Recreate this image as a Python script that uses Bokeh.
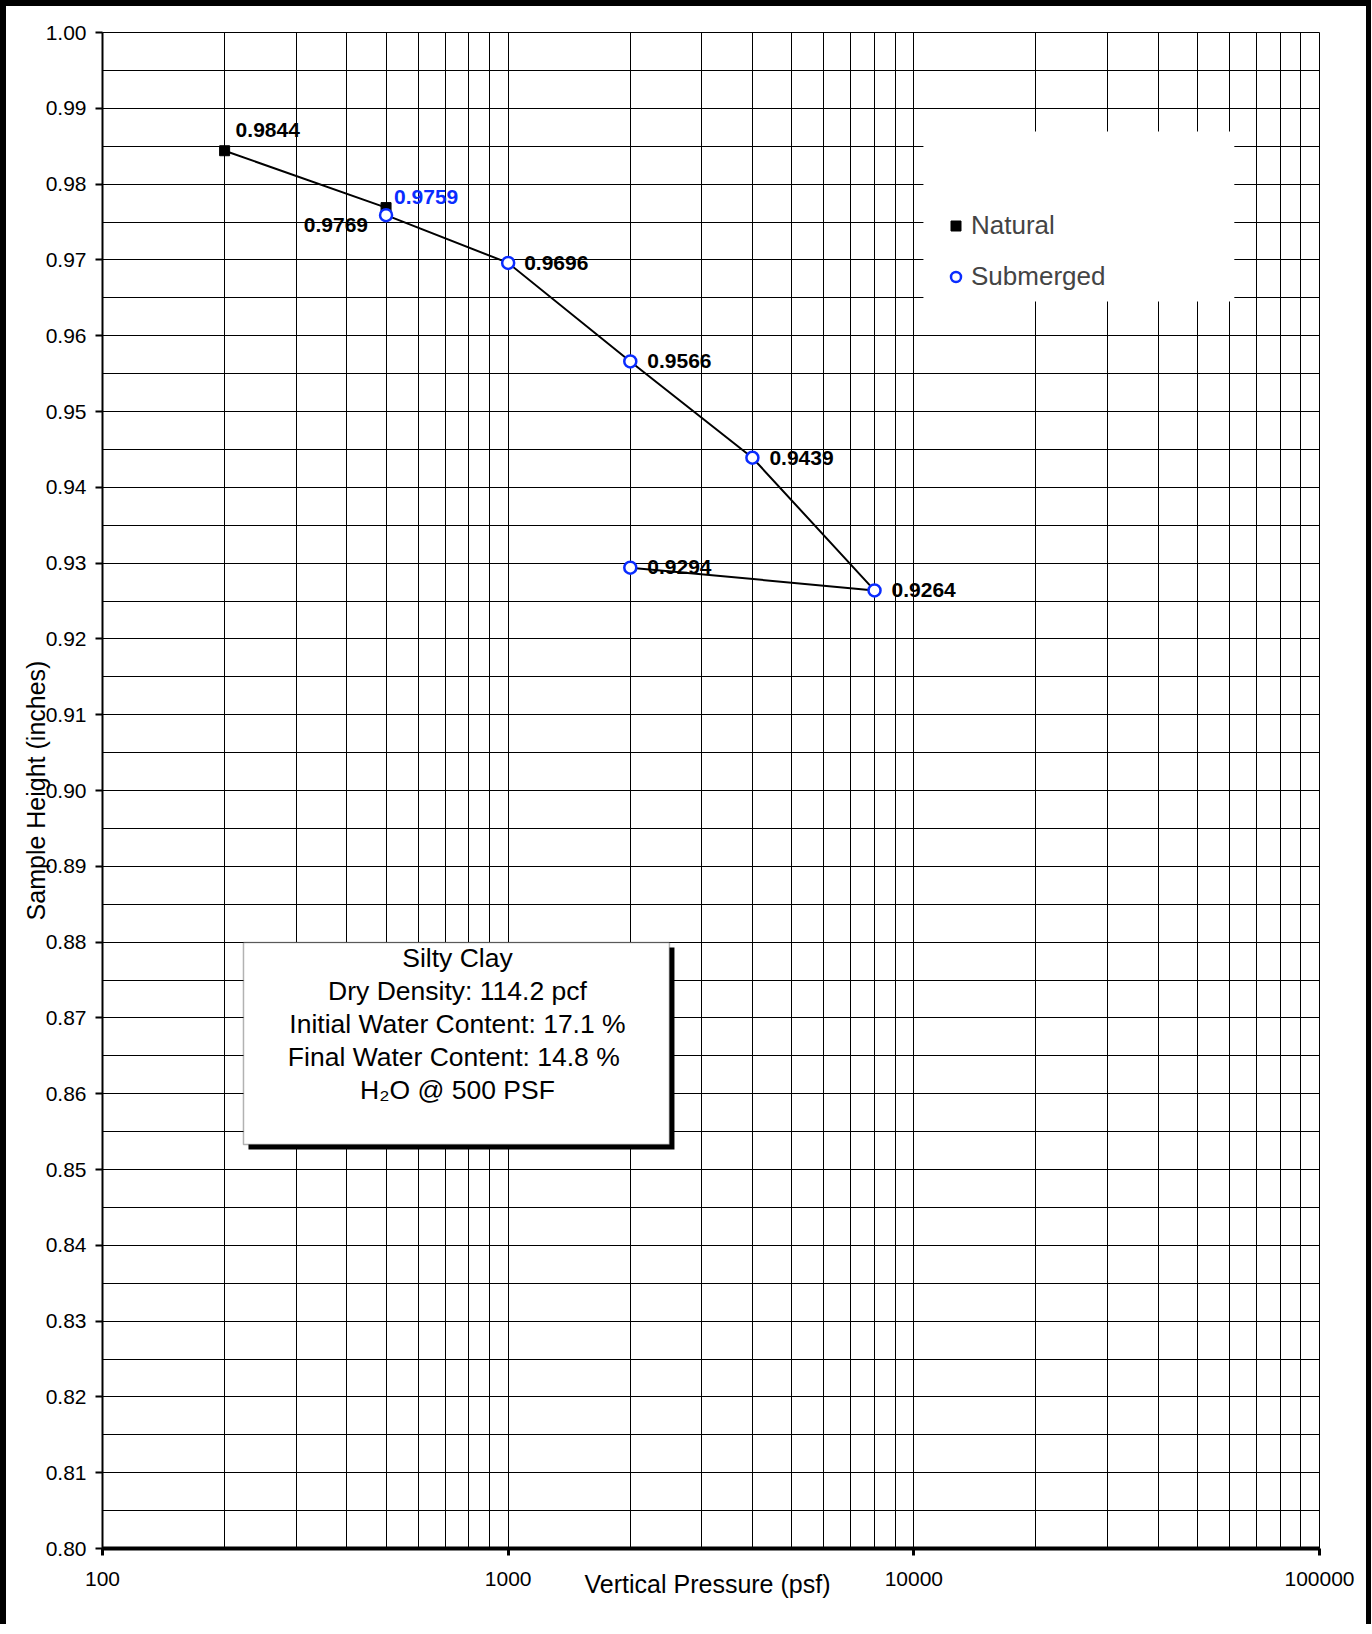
from bokeh.plotting import figure
from bokeh.models import (Range1d, FixedTicker, NumeralTickFormatter, BoxAnnotation,
                          Label, Legend, LegendItem, ColumnDataSource)
from bokeh.core.properties import value
from bokeh.embed import file_html
from bokeh.resources import INLINE

# ---------------- data ----------------
natural_pressure = [200, 500]
natural_height = [0.9844, 0.9769]
submerged_pressure = [500, 1000, 2000, 4000, 8000, 2000]
submerged_height = [0.9759, 0.9696, 0.9566, 0.9439, 0.9264, 0.9294]

x_tick_values = [100, 1000, 10000, 100000]
y_tick_values = [0.80, 0.81, 0.82, 0.83, 0.84, 0.85, 0.86, 0.87, 0.88, 0.89, 0.90,
                 0.91, 0.92, 0.93, 0.94, 0.95, 0.96, 0.97, 0.98, 0.99, 1.00]
x_grid_values = [m * 10 ** e for e in (2, 3, 4) for m in range(1, 10)] + [100000]
y_grid_values = [round(0.80 + 0.005 * i, 3) for i in range(41)]

info_lines = ["Silty Clay",
              "Dry Density: 114.2 pcf",
              "Initial Water Content: 17.1 %",
              "Final Water Content: 14.8  %",
              "H\u2082O @ 500 PSF"]

x_title = "Vertical Pressure  (psf)"
y_title = "Sample Height (inches)"

# ---------------- styles ----------------
FONT = "Liberation Sans"
BLUE = "#0a2cff"

p = figure(width=1360, height=1618, x_axis_type="log",
           x_range=Range1d(100, 100000), y_range=Range1d(0.80, 1.00),
           output_backend="svg", toolbar_location=None,
           min_border_left=96, min_border_right=58,
           min_border_top=26, min_border_bottom=82)
p.styles = {"box-sizing": "content-box",
            "border-top": "6px solid black", "border-left": "6px solid black",
            "border-right": "5px solid black"}
p.background_fill_color = "white"
p.border_fill_color = "white"
p.outline_line_color = "black"
p.outline_line_width = 1

# grids
p.xgrid.ticker = FixedTicker(ticks=x_grid_values)
p.ygrid.ticker = FixedTicker(ticks=y_grid_values)
for g in (p.xgrid, p.ygrid):
    g.grid_line_color = "black"
    g.grid_line_width = 1
    g.grid_line_alpha = 1

# axes
p.xaxis.ticker = FixedTicker(ticks=x_tick_values)
p.xaxis.formatter = NumeralTickFormatter(format="0")
p.yaxis.ticker = FixedTicker(ticks=y_tick_values)
p.yaxis.formatter = NumeralTickFormatter(format="0.00")
for ax in (p.xaxis, p.yaxis):
    ax.axis_line_color = "black"
    ax.major_tick_line_color = "black"
    ax.minor_tick_line_color = None
    ax.major_tick_in = 0
    ax.major_tick_out = 7
    ax.major_label_text_font = FONT
    ax.major_label_text_font_size = "21px"
    ax.major_label_text_color = "black"
    ax.axis_label_text_font = FONT
    ax.axis_label_text_font_size = "25px"
    ax.axis_label_text_font_style = "normal"
    ax.axis_label_text_color = "black"
p.xaxis.axis_line_width = 4
p.xaxis.major_tick_line_width = 3
p.xaxis.major_label_standoff = 16
p.xaxis.axis_label = x_title
p.xaxis.axis_label_standoff = -19
p.yaxis.axis_line_width = 2
p.yaxis.major_tick_line_width = 2
p.yaxis.major_label_standoff = 9
p.yaxis.axis_label = y_title
p.yaxis.axis_label_standoff = -7

# legend background and info box (annotations)
p.add_layout(BoxAnnotation(left=10560, right=61660, top=0.98694, bottom=0.96451,
                           fill_color="white", fill_alpha=1, line_color=None, level="underlay"))
p.add_layout(BoxAnnotation(left=229.0, right=2570, top=0.87929, bottom=0.85264,
                           fill_color="black", fill_alpha=1, line_color=None))
p.add_layout(BoxAnnotation(left=222.6, right=2498, top=0.87995, bottom=0.85330,
                           fill_color="white", fill_alpha=1, line_color="black", line_width=1.5))
line_step = 0.004354
for i, t in enumerate(info_lines):
    p.add_layout(Label(x=750, y=0.87784 - i * line_step, text=t, text_align="center",
                       text_baseline="middle", text_font=FONT,
                       text_font_size="26.5px", text_color="black"))

# data line + markers
all_p = natural_pressure + submerged_pressure
all_h = natural_height + submerged_height
p.line(all_p, all_h, line_color="black", line_width=2)
r_nat = p.scatter(natural_pressure, natural_height, marker="square", size=10,
                  fill_color="black", line_color="black")
r_sub = p.scatter(submerged_pressure, submerged_height, marker="circle", size=12,
                  fill_color="white", line_color=BLUE, line_width=2.5)

# data labels
lab_x = all_p
lab_y = all_h
lab_text = [f"{v:.4f}" for v in all_h]
lab_align = ["left", "right", "left", "left", "left", "left", "left", "left"]
lab_dx = [11, -18, 8, 16, 17, 17, 17, 17]
lab_dy = [-21, 17, -18, 0, 0, 0, 0, -1]
lab_color = ["black", "black", BLUE, "black", "black", "black", "black", "black"]
src = ColumnDataSource(dict(x=lab_x, y=lab_y, text=lab_text, align=lab_align,
                            dx=lab_dx, dy=lab_dy, color=lab_color))
p.text(x="x", y="y", text="text", source=src, x_offset="dx", y_offset="dy",
       text_align="align", text_baseline="middle", text_color="color",
       text_font=value(FONT), text_font_size="21px", text_font_style="bold")

legend = Legend(items=[LegendItem(label="Natural", renderers=[r_nat]),
                       LegendItem(label="Submerged", renderers=[r_sub])],
                location=(841, 1256), background_fill_alpha=0, border_line_color=None,
                padding=0, spacing=20, glyph_width=25, glyph_height=25, label_standoff=3,
                label_text_font=FONT, label_text_font_size="26px", margin=0)
p.add_layout(legend)

open("out.html", "w").write(file_html(p, INLINE))
